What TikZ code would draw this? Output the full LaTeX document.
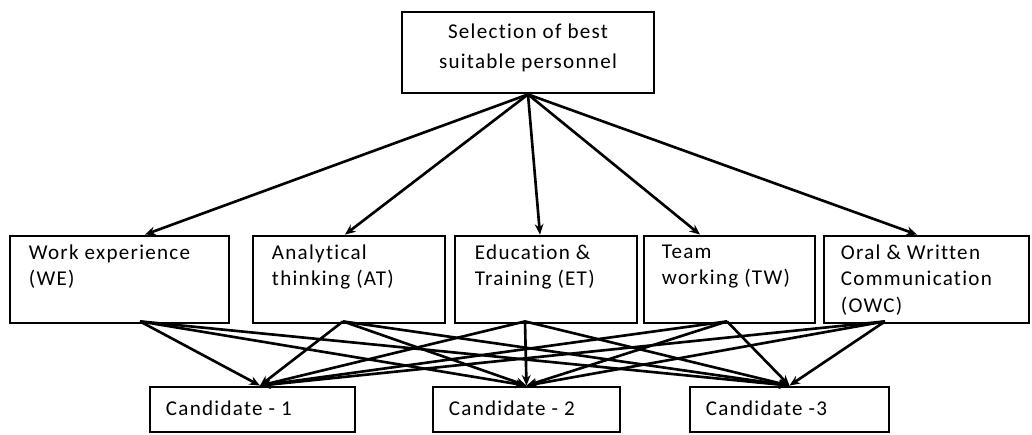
\documentclass[tikz,border=0pt]{standalone}
\usepackage{fontspec}
\setmainfont[LetterSpace=6,Ligatures=NoCommon]{Carlito}
\usepackage{tikz}
\usetikzlibrary{
	positioning,
	calc,
	arrows.meta
}

\begin{document}
\begin{tikzpicture}[
	x=0.02cm,
	y=-0.02cm,
	box/.style={
		draw=black,
		line width=1.6pt,
		minimum width=#1,
		minimum height=87*0.02cm,
		inner sep=0pt
	},
	cand/.style={
		draw=black,
		line width=1.6pt,
		minimum width=#1,
		minimum height=45*0.02cm,
		inner sep=0pt
	},
	boxtext/.style={
		anchor=north west,
		align=left,
		inner sep=0pt,
		font=\fontsize{12}{15}\selectfont
	},
	link/.style={
		-{Stealth[length=6pt,width=5pt]},
		line width=1.5pt
	}
	]
	
	\useasboundingbox (0,0) rectangle (1032,435);
	
	% goal
	\node[
	draw=black,
	line width=1.6pt,
	minimum width=252*0.02cm,
	minimum height=81*0.02cm,
	inner sep=0pt
	]
	(SEL)
	at (528,52.5)
	{};
	
	\node[
	align=center,
	inner sep=0pt,
	font=\fontsize{12}{17}\selectfont
	]
	(SELtxt)
	at ($(SEL)+(0,-5)$)
	{Selection of best\\suitable personnel};
	
	% criteria
	\node[box=219*0.02cm] (WE) at (119.5,279.5) {};
	\node[box=192*0.02cm] (AT) at (349,279.5) {};
	\node[box=182*0.02cm] (ET) at (546,279.5) {};
	\node[box=171*0.02cm] (TW) at (729.5,279.5) {};
	\node[box=205*0.02cm] (OWC) at (926.5,279.5) {};
	
	\node[boxtext] (WEtxt) at ($(WE.north west)+(20,10)$) {Work experience\\(WE)};
	\node[boxtext] (ATtxt) at ($(AT.north west)+(20,10)$) {Analytical\\thinking (AT)};
	\node[boxtext] (ETtxt) at ($(ET.north west)+(21,10)$) {Education \&\\Training (ET)};
	\node[boxtext] (TWtxt) at ($(TW.north west)+(19,10)$) {Team\\working (TW)};
	\node[boxtext] (OWCtxt) at ($(OWC.north west)+(18,10)$) {Oral \& Written\\Communication\\(OWC)};
	
	% alternatives
	\node[cand=205*0.02cm] (C1) at (252.5,409.5) {};
	\node[cand=187*0.02cm] (C2) at (526.5,409.5) {};
	\node[cand=199*0.02cm] (C3) at (789.5,409.5) {};
	
	\node[anchor=west,inner sep=0pt,font=\fontsize{12}{15}\selectfont] (C1txt) at ($(C1.west)+(17,-1)$) {Candidate - 1};
	\node[anchor=west,inner sep=0pt,font=\fontsize{12}{15}\selectfont] (C2txt) at ($(C2.west)+(17,-1)$) {Candidate - 2};
	\node[anchor=west,inner sep=0pt,font=\fontsize{12}{15}\selectfont] (C3txt) at ($(C3.west)+(17,-1)$) {Candidate -3};
	
	% end points on the boxes
	\coordinate (WE-t) at ($(WE.north)+(25.5,0)$);
	\coordinate (AT-t) at ($(AT.north)+(-4,0)$);
	\coordinate (ET-t) at ($(ET.north)+(-6,0)$);
	\coordinate (TW-t) at ($(TW.north)+(-29.5,0)$);
	\coordinate (OWC-t) at ($(OWC.north)+(-9.5,0)$);
	
	\coordinate (WE-b) at ($(WE.south)+(20.5,-3)$);
	\coordinate (AT-b) at ($(AT.south)+(-6,-3)$);
	\coordinate (ET-b) at ($(ET.south)+(-21,-3)$);
	\coordinate (TW-b) at ($(TW.south)+(-2.5,-3)$);
	\coordinate (OWC-b) at ($(OWC.south)+(-41.5,-3)$);
	
	\coordinate (C1-t) at ($(C1.north)+(7.5,0)$);
	\coordinate (C2-t) at (C2.north);
	\coordinate (C3-t) at (C3.north);
	
	\foreach \crit in {WE,AT,ET,TW,OWC}
	\draw[link] (SEL.south) -- (\crit-t);
	
	\foreach \crit in {WE,AT,ET,TW,OWC}
	\foreach \cand in {C1,C2,C3}
	\draw[link] (\crit-b) -- (\cand-t);
	
\end{tikzpicture}
\end{document}
